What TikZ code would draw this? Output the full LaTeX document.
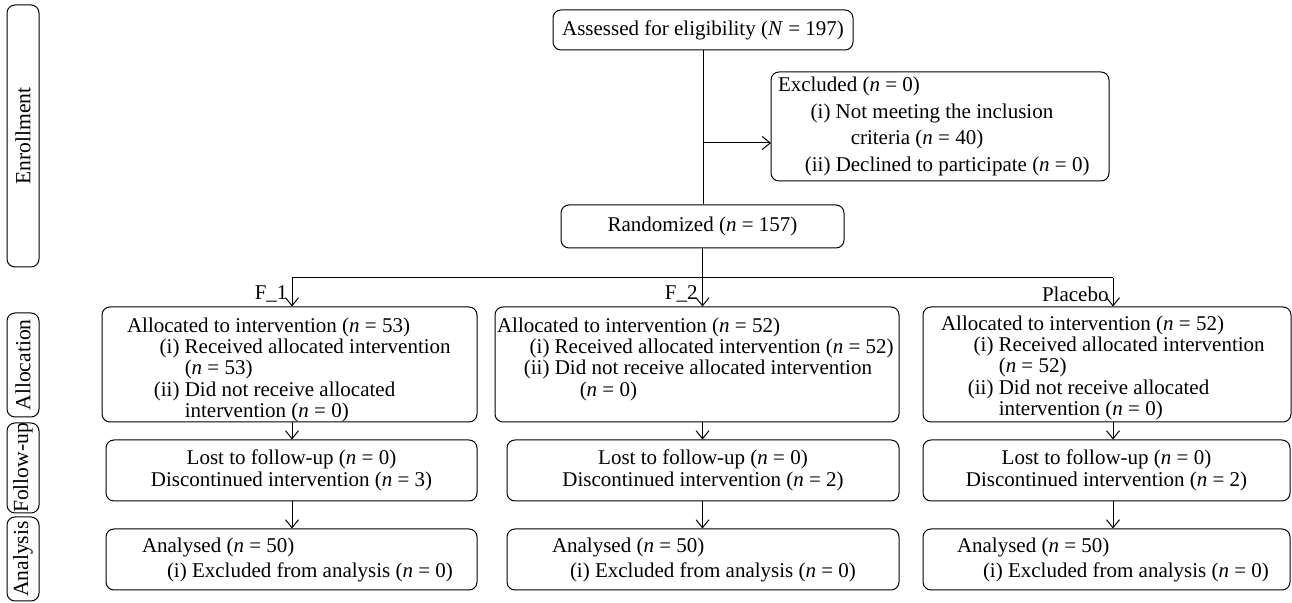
\documentclass[tikz,border=0pt]{standalone}
\usepackage{fontspec}
\setmainfont{Liberation Serif}
\usepackage{tikz}
\usetikzlibrary{arrows.meta}

\newcommand{\itm}[2]{\mbox{\makebox[2.5em][r]{#1}\ #2}}
\newcommand{\contd}[2][0pt]{\mbox{\hspace*{2.5em}\ \hspace*{#1}#2}}
\newcommand{\nof}[1]{(\textit{n} = #1)}

\begin{document}
\begin{tikzpicture}[x=0.5pt, y=-0.5pt, line width=0.5pt,
  every node/.style={font=\fontsize{10.5}{12.5}\selectfont},
  box/.style={draw, line width=0.5pt, rounded corners=4pt},
  stage/.style={draw, line width=0.5pt, rounded corners=4pt, rotate=90, inner sep=0pt, minimum height=16pt, font=\fontsize{10.8}{12}\selectfont},
  >={Straight Barb[length=4pt,width=6.5pt]}]

  \useasboundingbox (0,0) rectangle (1292,603);

  % phases
  \node[stage, minimum width=131pt] (enroll) at (23,136) {Enrollment};
  \node[stage, minimum width=52pt] (allocn) at (23,365) {Allocation};
  \node[stage, minimum width=45pt] (follow) at (23,468) {Follow-up};
  \node[stage, minimum width=42pt] (analys) at (23,559) {Analysis};

  % enrollment
  \node[box, minimum width=150pt, minimum height=20pt] (assess) at (703,30) {Assessed for eligibility (\textit{N} = 197)};
  \node[box, inner xsep=3.5pt, inner ysep=3pt] (excl) at (940,126.5) {\parbox[c][48.5pt][c]{162pt}{\raggedright\fontsize{10.5}{13.2}\selectfont
    Excluded \nof{0}\\
    \itm{(i)}{Not meeting the inclusion}\\
    \contd[7.5pt]{criteria \nof{40}}\\
    \itm{(ii)}{Declined to participate \nof{0}}}};
  \node[box, minimum width=141.5pt, minimum height=21.5pt] (rand) at (702.5,226.5) {Randomized \nof{157}};

  % allocation
  \node[box, inner xsep=12.5pt, inner ysep=3pt] (alloc1) at (289.5,364.5) {\parbox[c][51.5pt][t]{162.5pt}{\raggedright\fontsize{10.5}{10.6}\selectfont
    \vspace*{2.5pt}Allocated to intervention \nof{53}\\
    \itm{(i)}{Received allocated intervention}\\
    \contd{\nof{53}}\\
    \itm{(ii)}{Did not receive allocated}\\
    \contd{intervention \nof{0}}}};
  \node[box, inner xsep=1pt, inner ysep=3pt] (alloc2) at (697,364.5) {\parbox[c][51.5pt][t]{200pt}{\raggedright\fontsize{10.5}{10.6}\selectfont
    \vspace*{2.5pt}Allocated to intervention \nof{52}\\
    \itm{(i)}{Received allocated intervention \nof{52}}\\
    \itm{(ii)}{Did not receive allocated intervention}\\
    \contd[12.5pt]{\nof{0}}}};
  \node[box, inner xsep=9pt, inner ysep=3pt] (alloc3) at (1107,364.5) {\parbox[c][51.5pt][t]{166pt}{\raggedright\fontsize{10.5}{10.6}\selectfont
    \vspace*{1.5pt}Allocated to intervention \nof{52}\\
    \itm{(i)}{Received allocated intervention}\\
    \contd{\nof{52}}\\
    \itm{(ii)}{Did not receive allocated}\\
    \contd{intervention \nof{0}}}};

  % follow-up
  \node[box, minimum width=185.5pt, minimum height=30.5pt, align=center, font=\fontsize{10.5}{11}\selectfont] (lost1) at (291.5,470.5) {Lost to follow-up \nof{0}\\ Discontinued intervention \nof{3}};
  \node[box, minimum width=196pt, minimum height=30.5pt, align=center, font=\fontsize{10.5}{11}\selectfont] (lost2) at (703,470.5) {Lost to follow-up \nof{0}\\ Discontinued intervention \nof{2}};
  \node[box, minimum width=183.5pt, minimum height=30.5pt, align=center, font=\fontsize{10.5}{11}\selectfont] (lost3) at (1106.5,470.5) {Lost to follow-up \nof{0}\\ Discontinued intervention \nof{2}};

  % analysis
  \node[box, inner xsep=18pt, inner ysep=3pt] (anal1) at (291.5,559.5) {\parbox[c][24.5pt][c]{149.5pt}{\raggedright
    Analysed \nof{50}\\ \mbox{\hspace*{12.5pt}(i) Excluded from analysis \nof{0}}}};
  \node[box, inner xsep=22.5pt, inner ysep=3pt] (anal2) at (703,559.5) {\parbox[c][24.5pt][c]{151pt}{\raggedright
    Analysed \nof{50}\\ \mbox{\hspace*{9pt}(i) Excluded from analysis \nof{0}}}};
  \node[box, inner xsep=17pt, inner ysep=3pt] (anal3) at (1106.5,559.5) {\parbox[c][24.5pt][c]{149.5pt}{\raggedright
    Analysed \nof{50}\\ \mbox{\hspace*{13pt}(i) Excluded from analysis \nof{0}}}};

  % connectors
  \coordinate (exclpt) at (771,143);
  \coordinate (b1) at (292,278);
  \coordinate (b2) at (702.5,278);
  \coordinate (b3) at (1113,278);

  \draw (assess.south) -- (assess.south |- rand.north);
  \draw[->] (assess.south |- exclpt) -- (exclpt);
  \draw (rand.south) -- (b2);
  \draw (b1) -- (b3);
  \draw[->] (b1) -- (b1 |- alloc1.north);
  \draw[->] (b2) -- (b2 |- alloc2.north);
  \draw[->] (b3) -- (b3 |- alloc3.north);

  \node[anchor=east, inner sep=1pt] (lab1) at (290,294) {F\_1};
  \node[anchor=east, inner sep=1pt] (lab2) at (700,294) {F\_2};
  \node[anchor=east, inner sep=1pt] (lab3) at (1111,294) {Placebo};

  \draw[->] (alloc1.south -| b1) -- (lost1.north -| b1);
  \draw[->] (alloc2.south -| b2) -- (lost2.north -| b2);
  \draw[->] (alloc3.south -| b3) -- (lost3.north -| b3);
  \draw[->] (lost1.south -| b1) -- (anal1.north -| b1);
  \draw[->] (lost2.south -| b2) -- (anal2.north -| b2);
  \draw[->] (lost3.south -| b3) -- (anal3.north -| b3);
\end{tikzpicture}
\end{document}
